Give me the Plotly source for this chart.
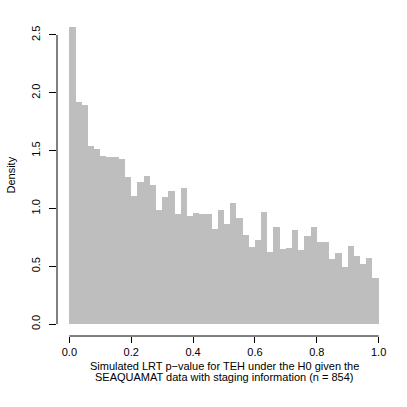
import plotly.graph_objects as go

bin_width = 0.02
bin_starts = [i * bin_width for i in range(50)]
density = [2.57, 1.918, 1.898, 1.537, 1.516, 1.456, 1.441, 1.447, 1.427, 1.268,
           1.109, 1.225, 1.280, 1.199, 0.988, 1.095, 1.147, 0.950, 1.176, 0.936,
           0.959, 0.950, 0.950, 0.820, 0.988, 0.867, 1.046, 0.916, 0.768, 0.667,
           0.728, 0.968, 0.627, 0.838, 0.647, 0.656, 0.817, 0.638, 0.765, 0.838,
           0.711, 0.708, 0.566, 0.615, 0.497, 0.676, 0.589, 0.520, 0.569, 0.399]
x_ticks = [0.0, 0.2, 0.4, 0.6, 0.8, 1.0]
x_tick_labels = ["0.0", "0.2", "0.4", "0.6", "0.8", "1.0"]
y_ticks = [0.0, 0.5, 1.0, 1.5, 2.0, 2.5]
y_tick_labels = ["0.0", "0.5", "1.0", "1.5", "2.0", "2.5"]
x_title_lines = ["Simulated LRT p\u2212value for TEH under the H0 given the",
                 "SEAQUAMAT data with staging information (n = 854)"]
y_title = "Density"

centers = [s + bin_width / 2 for s in bin_starts]
ymax = max(density)

fig = go.Figure()
fig.add_trace(go.Bar(x=centers, y=density, width=bin_width,
                     marker=dict(color="#BEBEBE", line=dict(width=0)),
                     hoverinfo="skip"))

font = dict(family="Liberation Sans, Arial, sans-serif", size=11, color="black")
fig.update_layout(
    width=407, height=407,
    margin=dict(l=57, r=16, t=15, b=71, pad=0),
    paper_bgcolor="white", plot_bgcolor="white",
    showlegend=False, bargap=0,
    font=font,
    xaxis=dict(range=[-0.04, 1.04], tickvals=x_ticks, ticktext=x_tick_labels,
               ticks="outside", ticklen=6, tickwidth=1, tickcolor="black",
               showline=False, showgrid=False, zeroline=False,
               ticklabelstandoff=0, automargin=False),
    yaxis=dict(range=[-0.04 * ymax, ymax * 1.04], tickvals=y_ticks, ticktext=y_tick_labels,
               ticks="outside", ticklen=7, tickwidth=1, tickcolor="black",
               tickangle=-90, showline=False, showgrid=False, zeroline=False,
               ticklabelstandoff=5, automargin=False),
)
# x-axis title as two tightly spaced lines (R style)
for i, line in enumerate(x_title_lines):
    fig.add_annotation(text=line, xref="paper", yref="paper", x=0.5, y=0,
                       xanchor="center", yanchor="middle", yshift=-30 - 10.8 * i,
                       showarrow=False, font=font)
fig.add_annotation(text=y_title, xref="paper", yref="paper", x=0, y=0.5,
                   xanchor="center", yanchor="middle", xshift=-47, textangle=-90,
                   showarrow=False, font=font)
# R-style axis lines spanning only the tick range
fig.add_shape(type="line", xref="x", yref="paper", x0=x_ticks[0], x1=x_ticks[-1], y0=0, y1=0,
              line=dict(color="black", width=1))
fig.add_shape(type="line", xref="paper", yref="y", x0=0, x1=0, y0=y_ticks[0], y1=y_ticks[-1],
              line=dict(color="black", width=1))

fig.write_html("out.html", config={"displayModeBar": False},
               post_script="document.body.style.margin='0';")
